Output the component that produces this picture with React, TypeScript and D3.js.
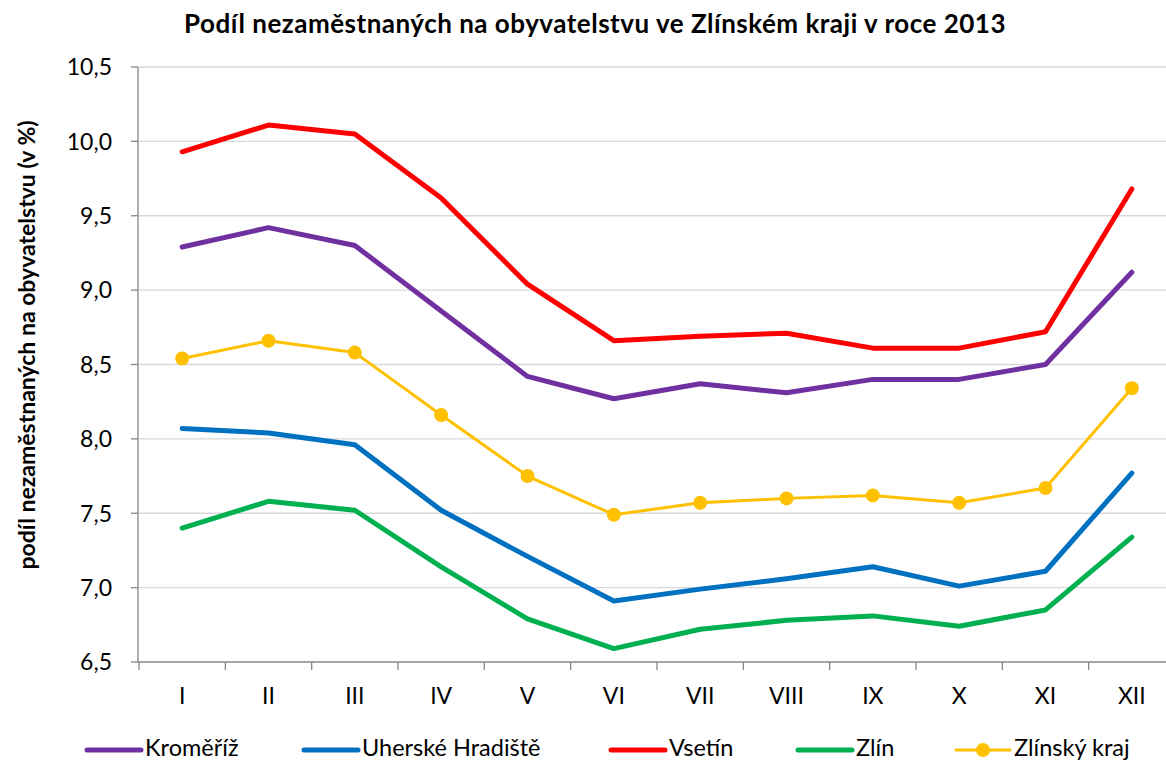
import React from "react";
import * as d3 from "d3";

const months = ["I", "II", "III", "IV", "V", "VI", "VII", "VIII", "IX", "X", "XI", "XII"];
const kromeriz = [9.29, 9.42, 9.30, 8.86, 8.42, 8.27, 8.37, 8.31, 8.40, 8.40, 8.50, 9.12];
const uherskeHradiste = [8.07, 8.04, 7.96, 7.52, 7.21, 6.91, 6.99, 7.06, 7.14, 7.01, 7.11, 7.77];
const vsetin = [9.93, 10.11, 10.05, 9.62, 9.04, 8.66, 8.69, 8.71, 8.61, 8.61, 8.72, 9.68];
const zlin = [7.40, 7.58, 7.52, 7.14, 6.79, 6.59, 6.72, 6.78, 6.81, 6.74, 6.85, 7.34];
const zlinskyKraj = [8.54, 8.66, 8.58, 8.16, 7.75, 7.49, 7.57, 7.60, 7.62, 7.57, 7.67, 8.34];
const yTicks = [6.5, 7.0, 7.5, 8.0, 8.5, 9.0, 9.5, 10.0, 10.5];

const series = [
  { name: "Kroměříž", values: kromeriz, color: "#7030A0", width: 5, marker: false, lx: 87 },
  { name: "Uherské Hradiště", values: uherskeHradiste, color: "#0070C0", width: 5, marker: false, lx: 304 },
  { name: "Vsetín", values: vsetin, color: "#FF0000", width: 5, marker: false, lx: 611 },
  { name: "Zlín", values: zlin, color: "#00B050", width: 5, marker: false, lx: 798 },
  { name: "Zlínský kraj", values: zlinskyKraj, color: "#FFC000", width: 3, marker: true, lx: 956 },
];

const FONT = "Lato, 'Open Sans', sans-serif";

export default function App() {
  const W = 1166, H = 762;
  const left = 139, right = 1175, top = 67, bottom = 662;
  const x = d3.scaleBand<string>().domain(months).range([left, right]);
  const y = d3.scaleLinear().domain([6.5, 10.5]).range([bottom, top]);
  const cx = (m: string) => (x(m) as number) + x.bandwidth() / 2;
  const line = d3.line<number>().x((_, i) => cx(months[i])).y((v) => y(v));
  const fmt = (v: number) => v.toFixed(1).replace(".", ",");

  return (
    <svg width={W} height={H} style={{ position: "absolute", left: 0, top: 0, background: "#fff" }}>
      <rect width={W} height={H} fill="#fff" />
      <text x={595} y={33} textAnchor="middle" fontFamily={FONT} fontWeight="bold" fontSize={26} letterSpacing={0.5} fill="#000">
        Podíl nezaměstnaných na obyvatelstvu ve Zlínském kraji v roce 2013
      </text>
      {/* gridlines */}
      {yTicks.slice(1).map((t) => (
        <line key={t} x1={left} x2={W} y1={y(t)} y2={y(t)} stroke="#D9D9D9" strokeWidth={1.3} />
      ))}
      {/* y axis */}
      <line x1={left - 1} x2={left - 1} y1={top} y2={bottom} stroke="#868686" strokeWidth={1.3} />
      {yTicks.map((t) => (
        <g key={t}>
          <line x1={left - 8} x2={left - 1} y1={y(t)} y2={y(t)} stroke="#868686" strokeWidth={1.3} />
          <text x={112} y={y(t)} dy="0.36em" textAnchor="end" fontFamily={FONT} fontSize={23} fill="#000">
            {fmt(t)}
          </text>
        </g>
      ))}
      {/* x axis */}
      <line x1={left - 1} x2={W} y1={bottom} y2={bottom} stroke="#868686" strokeWidth={1.3} />
      {months.map((m) => (
        <g key={m}>
          <line x1={x(m) as number} x2={x(m) as number} y1={bottom} y2={bottom + 8} stroke="#868686" strokeWidth={1.3} />
          <text x={cx(m)} y={704} textAnchor="middle" fontFamily={FONT} fontSize={23} fill="#000">
            {m}
          </text>
        </g>
      ))}
      <text
        transform={`translate(35, 345) rotate(-90)`}
        textAnchor="middle"
        fontFamily={FONT}
        fontWeight="bold"
        fontSize={23}
        fill="#000"
      >
        podíl nezaměstnaných na obyvatelstvu (v %)
      </text>
      {/* series */}
      {series.map((s) => (
        <g key={s.name}>
          <path d={line(s.values) || ""} fill="none" stroke={s.color} strokeWidth={s.width} strokeLinejoin="round" strokeLinecap="round" />
          {s.marker &&
            s.values.map((v, i) => <circle key={i} cx={cx(months[i])} cy={y(v)} r={7} fill={s.color} />)}
        </g>
      ))}
      {/* legend */}
      {series.map((s) => (
        <g key={s.name}>
          <line x1={s.lx} x2={s.lx + 54} y1={750} y2={750} stroke={s.color} strokeWidth={s.width} strokeLinecap="round" />
          {s.marker && <circle cx={s.lx + 27} cy={750} r={7} fill={s.color} />}
          <text x={s.lx + 58} y={756} fontFamily={FONT} fontSize={23.5} fill="#000">
            {s.name}
          </text>
        </g>
      ))}
    </svg>
  );
}
